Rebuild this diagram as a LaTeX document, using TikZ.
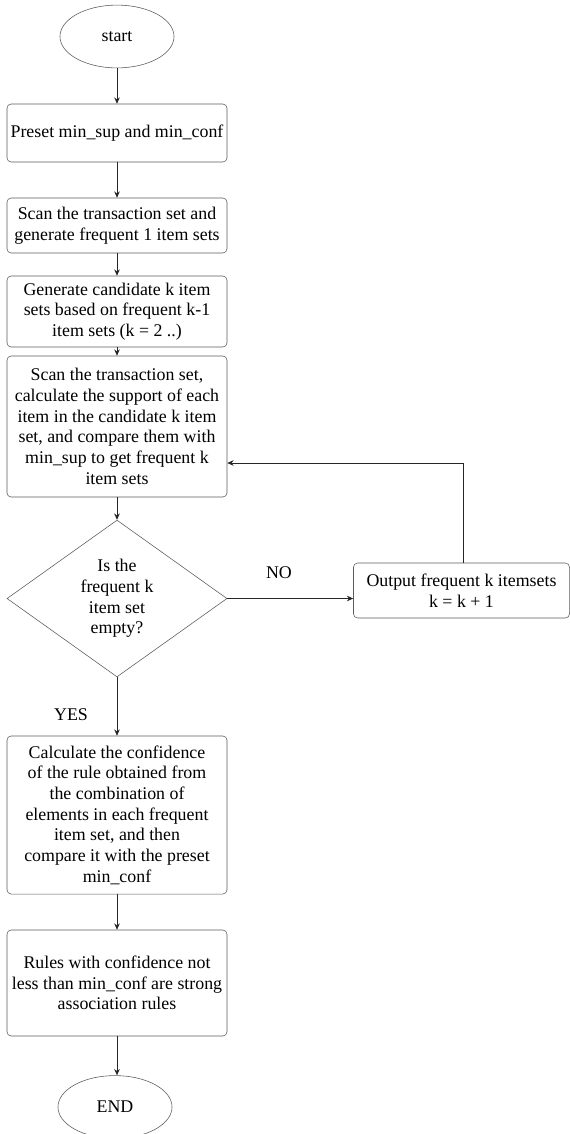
\documentclass[tikz,border=0pt]{standalone}
\usepackage{fontspec}
\setmainfont{Liberation Serif}
\usepackage{xcolor}
\definecolor{EdgeGray}{RGB}{90,90,90}
\usetikzlibrary{positioning}
\usetikzlibrary{calc}
\usetikzlibrary{shapes.geometric}
\usetikzlibrary{arrows.meta}

\begin{document}
\begin{tikzpicture}[
    x = 0.025cm, y = -0.025cm
    , n/.style = {
      , draw = EdgeGray
      , inner sep = 0pt
      , text = black
      , font = \fontsize{12.7}{14.7}\selectfont
      , align = center
    }
    , term/.style = {
      n,
      ellipse,
      minimum width = 2.85cm,
      minimum height = 1.57cm
    }
    , proc/.style = {
      n,
      rectangle,
      rounded corners = 3pt,
      minimum width = 5.5cm
    }
    , decision/.style = {
      n,
      diamond,
      minimum width = 5.5cm,
      minimum height = 3.92cm
    }
    , flowarrow/.style = {
      , -{Stealth[length=4.5pt, width=4pt]}
      , draw = black!85
      , semithick
    }
    , biglabel/.style = {
      , font = \fontsize{12.7}{14.7}\selectfont
    }
    ]
    \useasboundingbox (0,0) rectangle (570,1134);

    \node[term] (start) at (117,36.5) {start};
    \node[proc, minimum height = 1.45cm] (preset) at (117,133) {Preset min\_sup and min\_conf};
    \node[proc, minimum height = 1.375cm] (scan1) at (117,225.5) {Scan the transaction set and\\ generate frequent 1 item sets};
    \node[proc, minimum height = 1.775cm] (gen) at (117,311.5) {Generate candidate k item\\ sets based on frequent k-1\\ item sets (k = 2 ..)};
    \node[proc, minimum height = 3.525cm] (scan2) at (117,426.5) {Scan the transaction set,\\ calculate the support of each\\ item in the candidate k item\\ set, and compare them with\\ min\_sup to get frequent k\\ item sets};
    \node[decision] (empty) at (117,598.5) {Is the\\ frequent k\\ item set\\ empty?};
    \node[proc, minimum width = 5.4cm, minimum height = 1.375cm] (output) at (461.5,590.5) {Output frequent k itemsets\\ k = k + 1};
    \node[proc, minimum height = 3.95cm] (conf) at (117,815) {Calculate the confidence\\ of the rule obtained from\\ the combination of\\ elements in each frequent\\ item set, and then\\ compare it with the preset\\ min\_conf};
    \node[proc, minimum height = 2.65cm] (rules) at (117,983) {Rules with confidence not\\ less than min\_conf are strong\\ association rules};
    \node[term] (end) at (115,1107) {END};

    \node[biglabel] (no) at (279,573) {NO};
    \node[biglabel] (yes) at (71,715) {YES};

    \coordinate (loopin) at (463,463);

    \draw[flowarrow] (start) -- (preset);
    \draw[flowarrow] (preset) -- (scan1);
    \draw[flowarrow] (scan1) -- (gen);
    \draw[flowarrow] (gen) -- (scan2);
    \draw[flowarrow] (scan2) -- (empty);
    \draw[flowarrow] (empty.east) -- (empty.east -| output.west);
    \draw[flowarrow] (output.north -| loopin) -- (loopin) -- (loopin -| scan2.east);
    \draw[flowarrow] (empty) -- (conf);
    \draw[flowarrow] (conf) -- (rules);
    \draw[flowarrow] (rules.south) -- (rules.south |- end.north);
  \end{tikzpicture}
\end{document}
